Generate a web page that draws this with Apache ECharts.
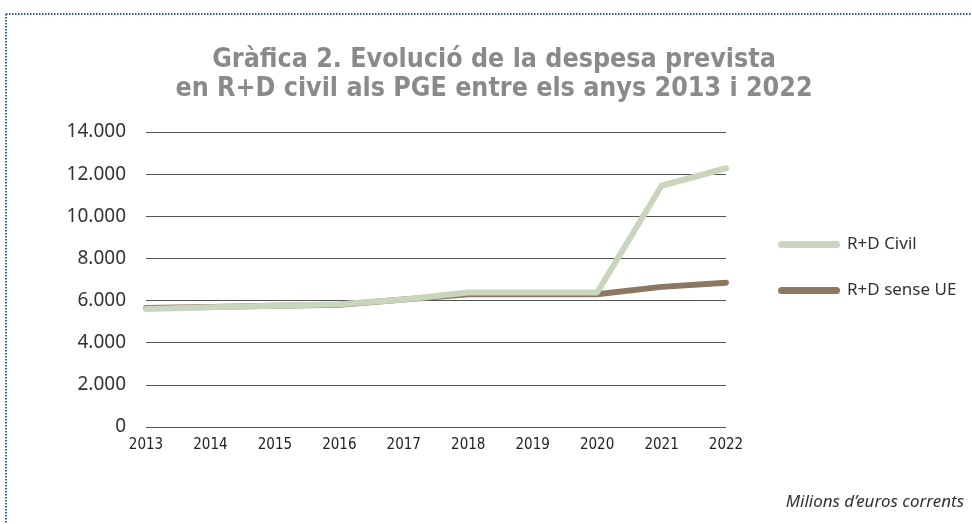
<!DOCTYPE html>
<html>
<head>
<meta charset="utf-8">
<script src="https://cdn.jsdelivr.net/npm/echarts@6/dist/echarts.min.js"></script>
<style>
    html, body { margin: 0; padding: 0; background: #fff; }
    #main { width: 972px; height: 524px; }
</style>
</head>
<body>
<div id="main"></div>
<script>
// dades
var anys = ['2013', '2014', '2015', '2016', '2017', '2018', '2019', '2020', '2021', '2022'];
var rdCivil = [5600, 5680, 5750, 5820, 6050, 6380, 6380, 6380, 11450, 12280];
var rdSenseUE = [5650, 5700, 5760, 5800, 6050, 6300, 6300, 6300, 6650, 6850];
var nomsSeries = ['R+D Civil', 'R+D sense UE'];

function puntsMilers(v) {
    return String(v).replace(/\B(?=(\d{3})+(?!\d))/g, '.');
}

var myChart = echarts.init(document.getElementById('main'));
var option = {
    animation: false,
    backgroundColor: '#fff',
    title: {
        text: 'Gràfica 2. Evolució de la despesa prevista\nen R+D civil als PGE entre els anys 2013 i 2022',
        left: 489,
        top: 41,
        textAlign: 'center',
        textStyle: {
            color: '#8a8a8a',
            fontFamily: 'DejaVu Sans Condensed',
            fontWeight: 'bold',
            fontSize: 26.6,
            lineHeight: 29
        }
    },
    legend: {
        data: nomsSeries,
        orient: 'vertical',
        left: 773,
        top: 231,
        itemGap: 29,
        itemWidth: 62,
        itemHeight: 22,
        icon: 'path://M3.5,7.5 L58.5,7.5 A3.5,3.5 0 0 1 58.5,14.5 L3.5,14.5 A3.5,3.5 0 0 1 3.5,7.5 Z',
        textStyle: {
            color: '#333',
            fontFamily: 'Noto Sans',
            fontSize: 17,
            padding: [0, 0, 0, 2]
        }
    },
    grid: {
        left: 146,
        right: 246,
        top: 132,
        bottom: 97
    },
    xAxis: {
        type: 'category',
        data: anys,
        boundaryGap: false,
        axisLine: { show: false },
        axisTick: { show: false },
        axisLabel: {
            color: '#222',
            fontFamily: 'DejaVu Sans Condensed',
            fontSize: 15,
            margin: 11
        }
    },
    yAxis: {
        type: 'value',
        min: 0,
        max: 14000,
        interval: 2000,
        axisLine: { show: false },
        axisTick: { show: false },
        axisLabel: {
            color: '#333',
            fontFamily: 'Noto Sans',
            fontSize: 19,
            margin: 20,
            formatter: function (v) { return puntsMilers(v); }
        },
        splitLine: {
            lineStyle: { color: '#555', width: 1 }
        }
    },
    series: [
        {
            name: nomsSeries[1],
            type: 'line',
            data: rdSenseUE,
            showSymbol: false,
            z: 2,
            itemStyle: { color: '#8b7762' },
            lineStyle: { color: '#8b7762', width: 6, cap: 'round', join: 'round' }
        },
        {
            name: nomsSeries[0],
            type: 'line',
            data: rdCivil,
            showSymbol: false,
            z: 3,
            itemStyle: { color: '#c9d5bd' },
            lineStyle: { color: '#c9d5bd', width: 6, cap: 'round', join: 'round' }
        }
    ],
    graphic: [
        {
            type: 'line',
            shape: { x1: 6, y1: 14, x2: 972, y2: 14 },
            style: { stroke: '#2a64b0', lineWidth: 2, lineDash: [1.5, 1.5] }
        },
        {
            type: 'line',
            shape: { x1: 6, y1: 14, x2: 6, y2: 524 },
            style: { stroke: '#2a64b0', lineWidth: 2, lineDash: [1.5, 1.5] }
        },
        {
            type: 'text',
            right: 8,
            top: 494,
            style: {
                text: 'Milions d\u2019euros corrents',
                fill: '#333',
                font: 'italic 17px "Noto Sans"'
            }
        }
    ]
};
myChart.setOption(option);
</script>
</body>
</html>
